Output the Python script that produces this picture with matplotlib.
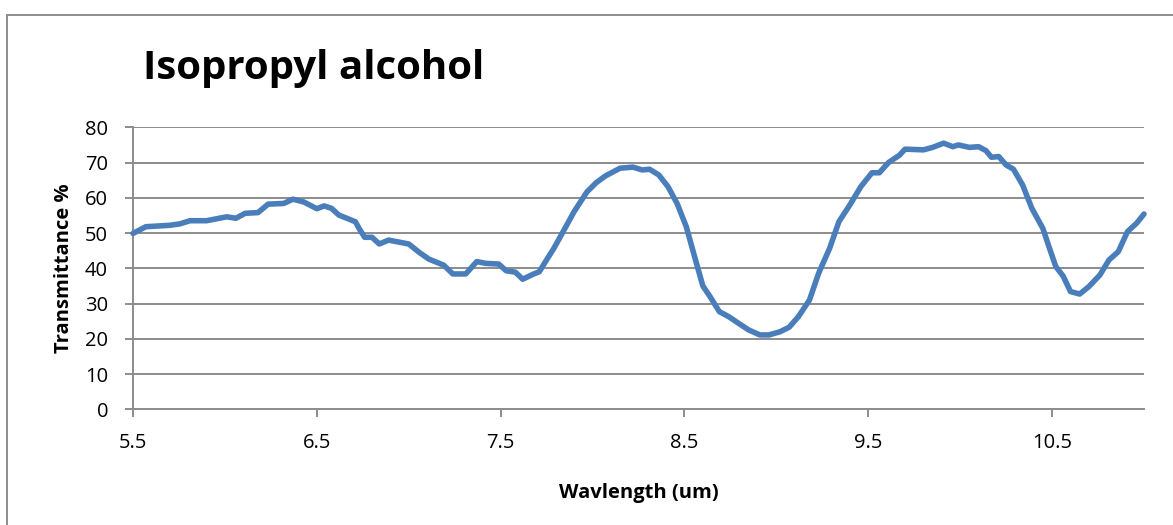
import matplotlib
matplotlib.use("Agg")
import matplotlib.pyplot as plt
from matplotlib.patches import Rectangle

wavelength = [5.50, 5.57, 5.70, 5.755, 5.81, 5.90, 6.01, 6.06, 6.11, 6.18, 6.235, 6.32, 6.37,
              6.43, 6.50, 6.54, 6.58, 6.62, 6.71, 6.73, 6.76, 6.80, 6.84, 6.89, 7.00, 7.06,
              7.11, 7.19, 7.24, 7.31, 7.37, 7.42, 7.49, 7.53, 7.58, 7.62, 7.68, 7.71, 7.75,
              7.79, 7.84, 7.90, 7.97, 8.02, 8.07, 8.15, 8.22, 8.27, 8.31, 8.36, 8.41, 8.46,
              8.51, 8.56, 8.60, 8.64, 8.69, 8.74, 8.80, 8.85, 8.91, 8.96, 9.02, 9.07, 9.12,
              9.18, 9.23, 9.29, 9.34, 9.40, 9.46, 9.52, 9.56, 9.61, 9.67, 9.70, 9.80, 9.85,
              9.91, 9.96, 9.99, 10.05, 10.10, 10.14, 10.17, 10.21, 10.25, 10.29, 10.34, 10.39,
              10.45, 10.48, 10.52, 10.56, 10.60, 10.65, 10.70, 10.76, 10.81, 10.86, 10.91,
              10.96, 11.00]
transmittance = [49.9, 51.8, 52.2, 52.6, 53.5, 53.5, 54.6, 54.2, 55.6, 55.8, 58.2, 58.4, 59.6,
                 58.8, 56.9, 57.7, 57.0, 55.1, 53.2, 51.3, 48.8, 48.8, 46.9, 48.0, 46.9, 44.4,
                 42.6, 40.9, 38.4, 38.4, 41.9, 41.4, 41.2, 39.3, 38.9, 36.9, 38.4, 39.0, 42.4,
                 45.7, 50.4, 56.1, 61.7, 64.3, 66.2, 68.4, 68.7, 67.9, 68.1, 66.5, 63.2, 58.4,
                 51.8, 42.4, 35.0, 31.9, 27.7, 26.3, 24.2, 22.5, 21.1, 21.1, 22.0, 23.3, 26.3,
                 31.0, 38.6, 45.7, 53.2, 58.0, 63.2, 67.1, 67.1, 70.0, 72.1, 73.8, 73.6, 74.3,
                 75.5, 74.5, 75.0, 74.3, 74.5, 73.4, 71.5, 71.7, 69.3, 68.1, 63.6, 57.0,
                 51.3, 46.6, 40.5, 37.8, 33.4, 32.7, 34.8, 38.1, 42.4, 44.7, 50.4,
                 52.8, 55.4]
x_ticks = [5.5, 6.5, 7.5, 8.5, 9.5, 10.5]
x_tick_labels = ["5.5", "6.5", "7.5", "8.5", "9.5", "10.5"]
y_ticks = [0, 10, 20, 30, 40, 50, 60, 70, 80]

font = ["Open Sans", "DejaVu Sans"]
plt.rcParams['font.family'] = font

fig = plt.figure(figsize=(11.73, 5.25), dpi=100)
ax = fig.add_axes([133/1173, 1-409.3/525, (1144-133)/1173, (409.3-127.3)/525])

ax.plot(wavelength, transmittance, color="#4A7EBB", lw=4.0, solid_capstyle="round",
        solid_joinstyle="round", zorder=3, clip_on=False)

ax.set_xlim(5.5, 11.0)
ax.set_ylim(0, 80)
ax.set_xticks(x_ticks)
ax.set_xticklabels(x_tick_labels)
ax.set_yticks(y_ticks)
grid_c = "#8C8C8C"
ax.grid(axis="y", color=grid_c, lw=1.4, zorder=1)
for s in ["top", "right"]:
    ax.spines[s].set_visible(False)
for s in ["left", "bottom"]:
    ax.spines[s].set_color(grid_c)
    ax.spines[s].set_linewidth(1.4)
ax.tick_params(axis="both", colors=grid_c, labelcolor="black", labelsize=14.5, length=6, width=1.4)
ax.tick_params(axis="x", pad=11)
ax.tick_params(axis="y", pad=12)

ax.set_xlabel("Wavlength (um)", fontsize=14.5, fontweight="bold", labelpad=22)
ax.set_ylabel("Transmittance %", fontsize=14.5, fontweight="bold", labelpad=8)

fig.text(143/1173, 1-68/525, "Isopropyl alcohol", fontsize=29, fontweight="bold",
         ha="left", va="center")

fig.patches.append(Rectangle((7/1173, -0.05), 1.2, 1-15/525+0.05, transform=fig.transFigure,
                             fill=False, edgecolor="#8C8C8C", lw=1.4))

fig.savefig("out.png", dpi=100)
